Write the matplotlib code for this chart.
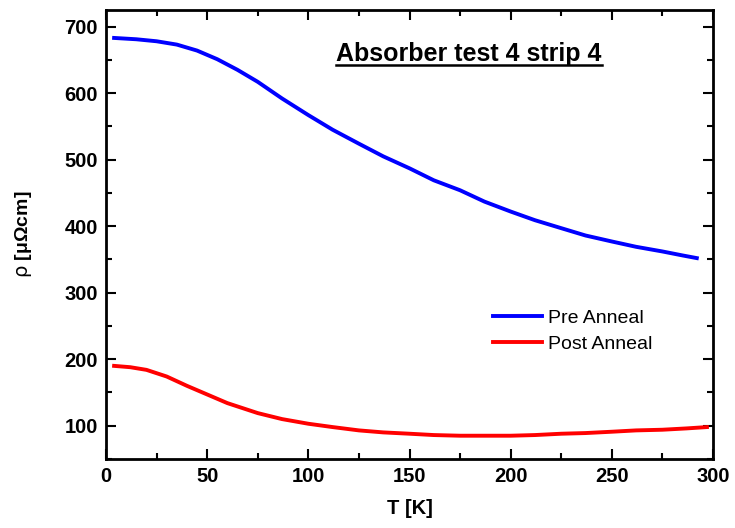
import numpy as np
import matplotlib
matplotlib.use("Agg")
from matplotlib import pyplot as plt

# data
T_pre = [4, 15, 25, 35, 45, 55, 65, 75, 87, 100, 112, 125, 137, 150, 162, 175, 187, 200, 212, 225, 237, 250, 262, 275, 285, 292]
rho_pre = [683, 681, 678, 673, 664, 651, 635, 617, 592, 567, 545, 524, 505, 487, 469, 454, 437, 422, 409, 397, 386, 377, 369, 362, 356, 352]
T_post = [4, 12, 20, 30, 40, 50, 60, 75, 87, 100, 112, 125, 137, 150, 162, 175, 187, 200, 212, 225, 237, 250, 262, 275, 287, 297]
rho_post = [190, 188, 184, 174, 160, 147, 134, 119, 110, 103, 98, 93, 90, 88, 86, 85, 85, 85, 86, 88, 89, 91, 93, 94, 96, 98]

plt.rcParams['font.family'] = ['Liberation Sans', 'DejaVu Sans']

fig = plt.figure(figsize=(7.35, 5.28), dpi=100)
ax = fig.add_axes([106/735, 1-459/528, (713-106)/735, (459-10)/528])

ax.plot(T_pre, rho_pre, color="#0000ff", lw=2.8, label="Pre Anneal")
ax.plot(T_post, rho_post, color="#ff0000", lw=2.8, label="Post Anneal")

ax.set_xlim(0, 300)
ax.set_ylim(50, 725)
ax.set_xticks(np.arange(0, 301, 50))
ax.set_xticks(np.arange(25, 300, 50), minor=True)
ax.set_yticks(np.arange(100, 701, 100))
ax.set_yticks(np.arange(50, 725, 100), minor=True)
ax.tick_params(which="both", direction="in", top=True, right=True, width=1.5)
ax.tick_params(which="major", length=7, labelsize=14.5, pad=6)
ax.tick_params(which="minor", length=4)
for lab in ax.get_xticklabels() + ax.get_yticklabels():
    lab.set_fontweight("bold")
for s in ax.spines.values():
    s.set_linewidth(2)

ax.set_xlabel("T [K]", fontsize=14.5, fontweight="bold", labelpad=9)
ax.set_ylabel(r"$\mathrm{\rho}$ [μΩcm]", fontsize=14, fontweight="bold", labelpad=22)

t = ax.text(0.598, 0.902, "Absorber test 4 strip 4", transform=ax.transAxes,
            ha="center", va="center", fontsize=18, fontweight="bold")
fig.canvas.draw()
bb = t.get_window_extent().transformed(ax.transAxes.inverted())
ax.plot([bb.x0, bb.x1], [bb.y0 + 0.002, bb.y0 + 0.002], transform=ax.transAxes, color="black", lw=1.8)

ax.legend(loc="upper left", bbox_to_anchor=(0.6376, 0.333), frameon=False, fontsize=14,
          handlelength=2.5, handletextpad=0.35, labelspacing=0.42,
          borderpad=0, borderaxespad=0)

fig.savefig("out.png", dpi=100)
